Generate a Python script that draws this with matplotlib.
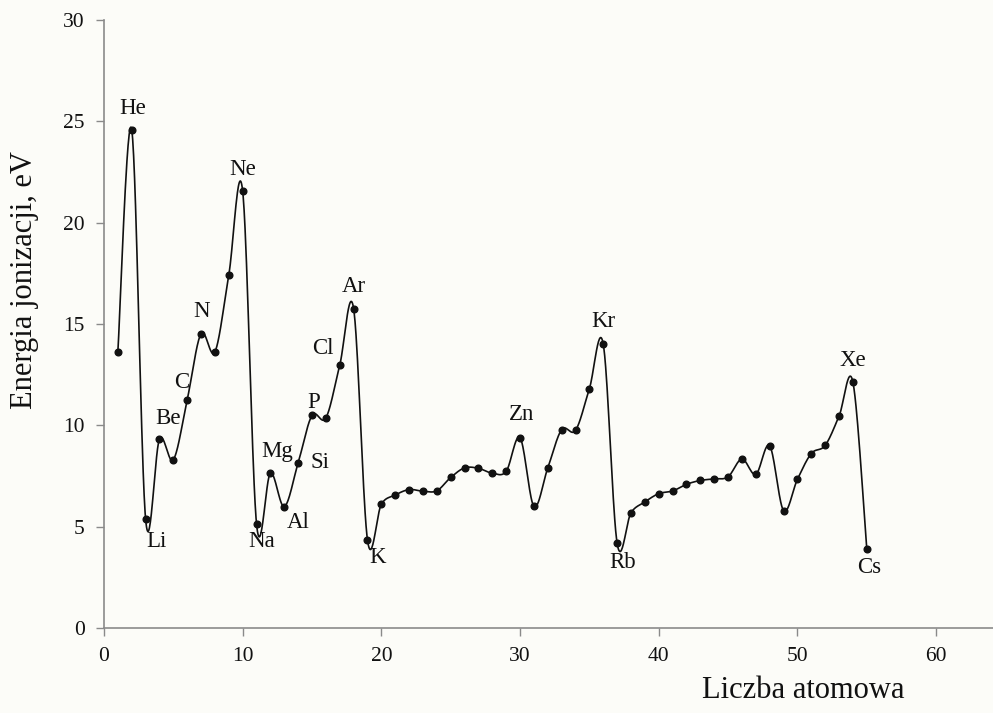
import numpy as np
import matplotlib
matplotlib.use("Agg")
import matplotlib.pyplot as plt

atomic_number = list(range(1, 56))
energy_ev = [13.60, 24.59, 5.39, 9.32, 8.30, 11.26, 14.53, 13.62, 17.42, 21.56,
             5.14, 7.65, 5.99, 8.15, 10.49, 10.36, 12.97, 15.76, 4.34, 6.11,
             6.56, 6.83, 6.75, 6.77, 7.43, 7.90, 7.88, 7.64, 7.73, 9.39,
             6.00, 7.90, 9.79, 9.75, 11.81, 14.00, 4.18, 5.69, 6.22, 6.63,
             6.76, 7.09, 7.28, 7.36, 7.46, 8.34, 7.58, 8.99, 5.79, 7.34,
             8.61, 9.01, 10.45, 12.13, 3.89]

label_names = ["He", "Ne", "N", "Ar", "Cl", "C", "Be", "P", "Mg", "Si", "Al",
               "Li", "Na", "K", "Zn", "Kr", "Rb", "Xe", "Cs"]
label_x = [2.05, 10.0, 7.05, 18.0, 15.8, 5.6, 4.6, 15.1, 12.5, 15.6, 14.0,
           3.8, 11.4, 19.7, 30.1, 36.0, 37.4, 54.0, 55.2]
label_y = [25.65, 22.6, 15.6, 16.85, 13.8, 12.1, 10.35, 11.15, 8.7, 8.15, 5.2,
           4.25, 4.25, 3.5, 10.55, 15.1, 3.25, 13.2, 3.0]

plt.rcParams['font.family'] = ['Liberation Serif', 'DejaVu Serif']

fig = plt.figure(figsize=(9.93, 7.13), dpi=100, facecolor='#fcfcf8')
ax = fig.add_axes([0.1047, 0.1192, 0.8953, 0.8528])
ax.set_facecolor('#fcfcf8')

xmax = 64.1
ymax = 30
ax.set_xlim(0, xmax)
ax.set_ylim(0, ymax)

# Smooth curve (Bezier / Catmull-Rom in scaled space, like spreadsheet smoothing)
X = np.array(atomic_number, dtype=float)
Y = np.array(energy_ev, dtype=float)
sx, sy = 13.87, 20.27
P = np.column_stack([X * sx, Y * sy])
pts = []
n = len(P)
t = np.linspace(0, 1, 30)
for i in range(n - 1):
    p0 = P[i]
    p3 = P[i + 1]
    pm = P[i - 1] if i > 0 else P[i]
    pp = P[i + 2] if i + 2 < n else P[i + 1]
    c1 = p0 + (p3 - pm) / 6.0
    c2 = p3 - (pp - p0) / 6.0
    seg = ((1 - t)[:, None] ** 3 * p0 + 3 * ((1 - t) ** 2 * t)[:, None] * c1
           + 3 * ((1 - t) * t ** 2)[:, None] * c2 + (t ** 3)[:, None] * p3)
    pts.append(seg)
curve = np.vstack(pts)
ax.plot(curve[:, 0] / sx, curve[:, 1] / sy, color='#111111', lw=1.2, zorder=2)
ax.plot(X, Y, 'o', color='#111111', ms=4.8, zorder=3)

for name, lx, ly in zip(label_names, label_x, label_y):
    ax.text(lx, ly, name, ha='center', va='center', fontsize=16.5, color='#111111')

for s in ['top', 'right']:
    ax.spines[s].set_visible(False)
for s in ['left', 'bottom']:
    ax.spines[s].set_color('#8a8a8a')
    ax.spines[s].set_linewidth(1.2)

ax.set_xticks([0, 10, 20, 30, 40, 50, 60])
ax.set_yticks([0, 5, 10, 15, 20, 25, 30])
ax.tick_params(axis='both', direction='out', length=6, width=1.0, color='#8a8a8a',
               labelsize=15.5, labelcolor='#111111', pad=8)

fig.text(0.025, 0.607, 'Energia jonizacji, eV', rotation=90, ha='center', va='center',
         fontsize=22, color='#111111')
fig.text(0.809, 0.032, 'Liczba atomowa', ha='center', va='center',
         fontsize=22, color='#111111')

fig.savefig('out.png', dpi=100, facecolor=fig.get_facecolor())
